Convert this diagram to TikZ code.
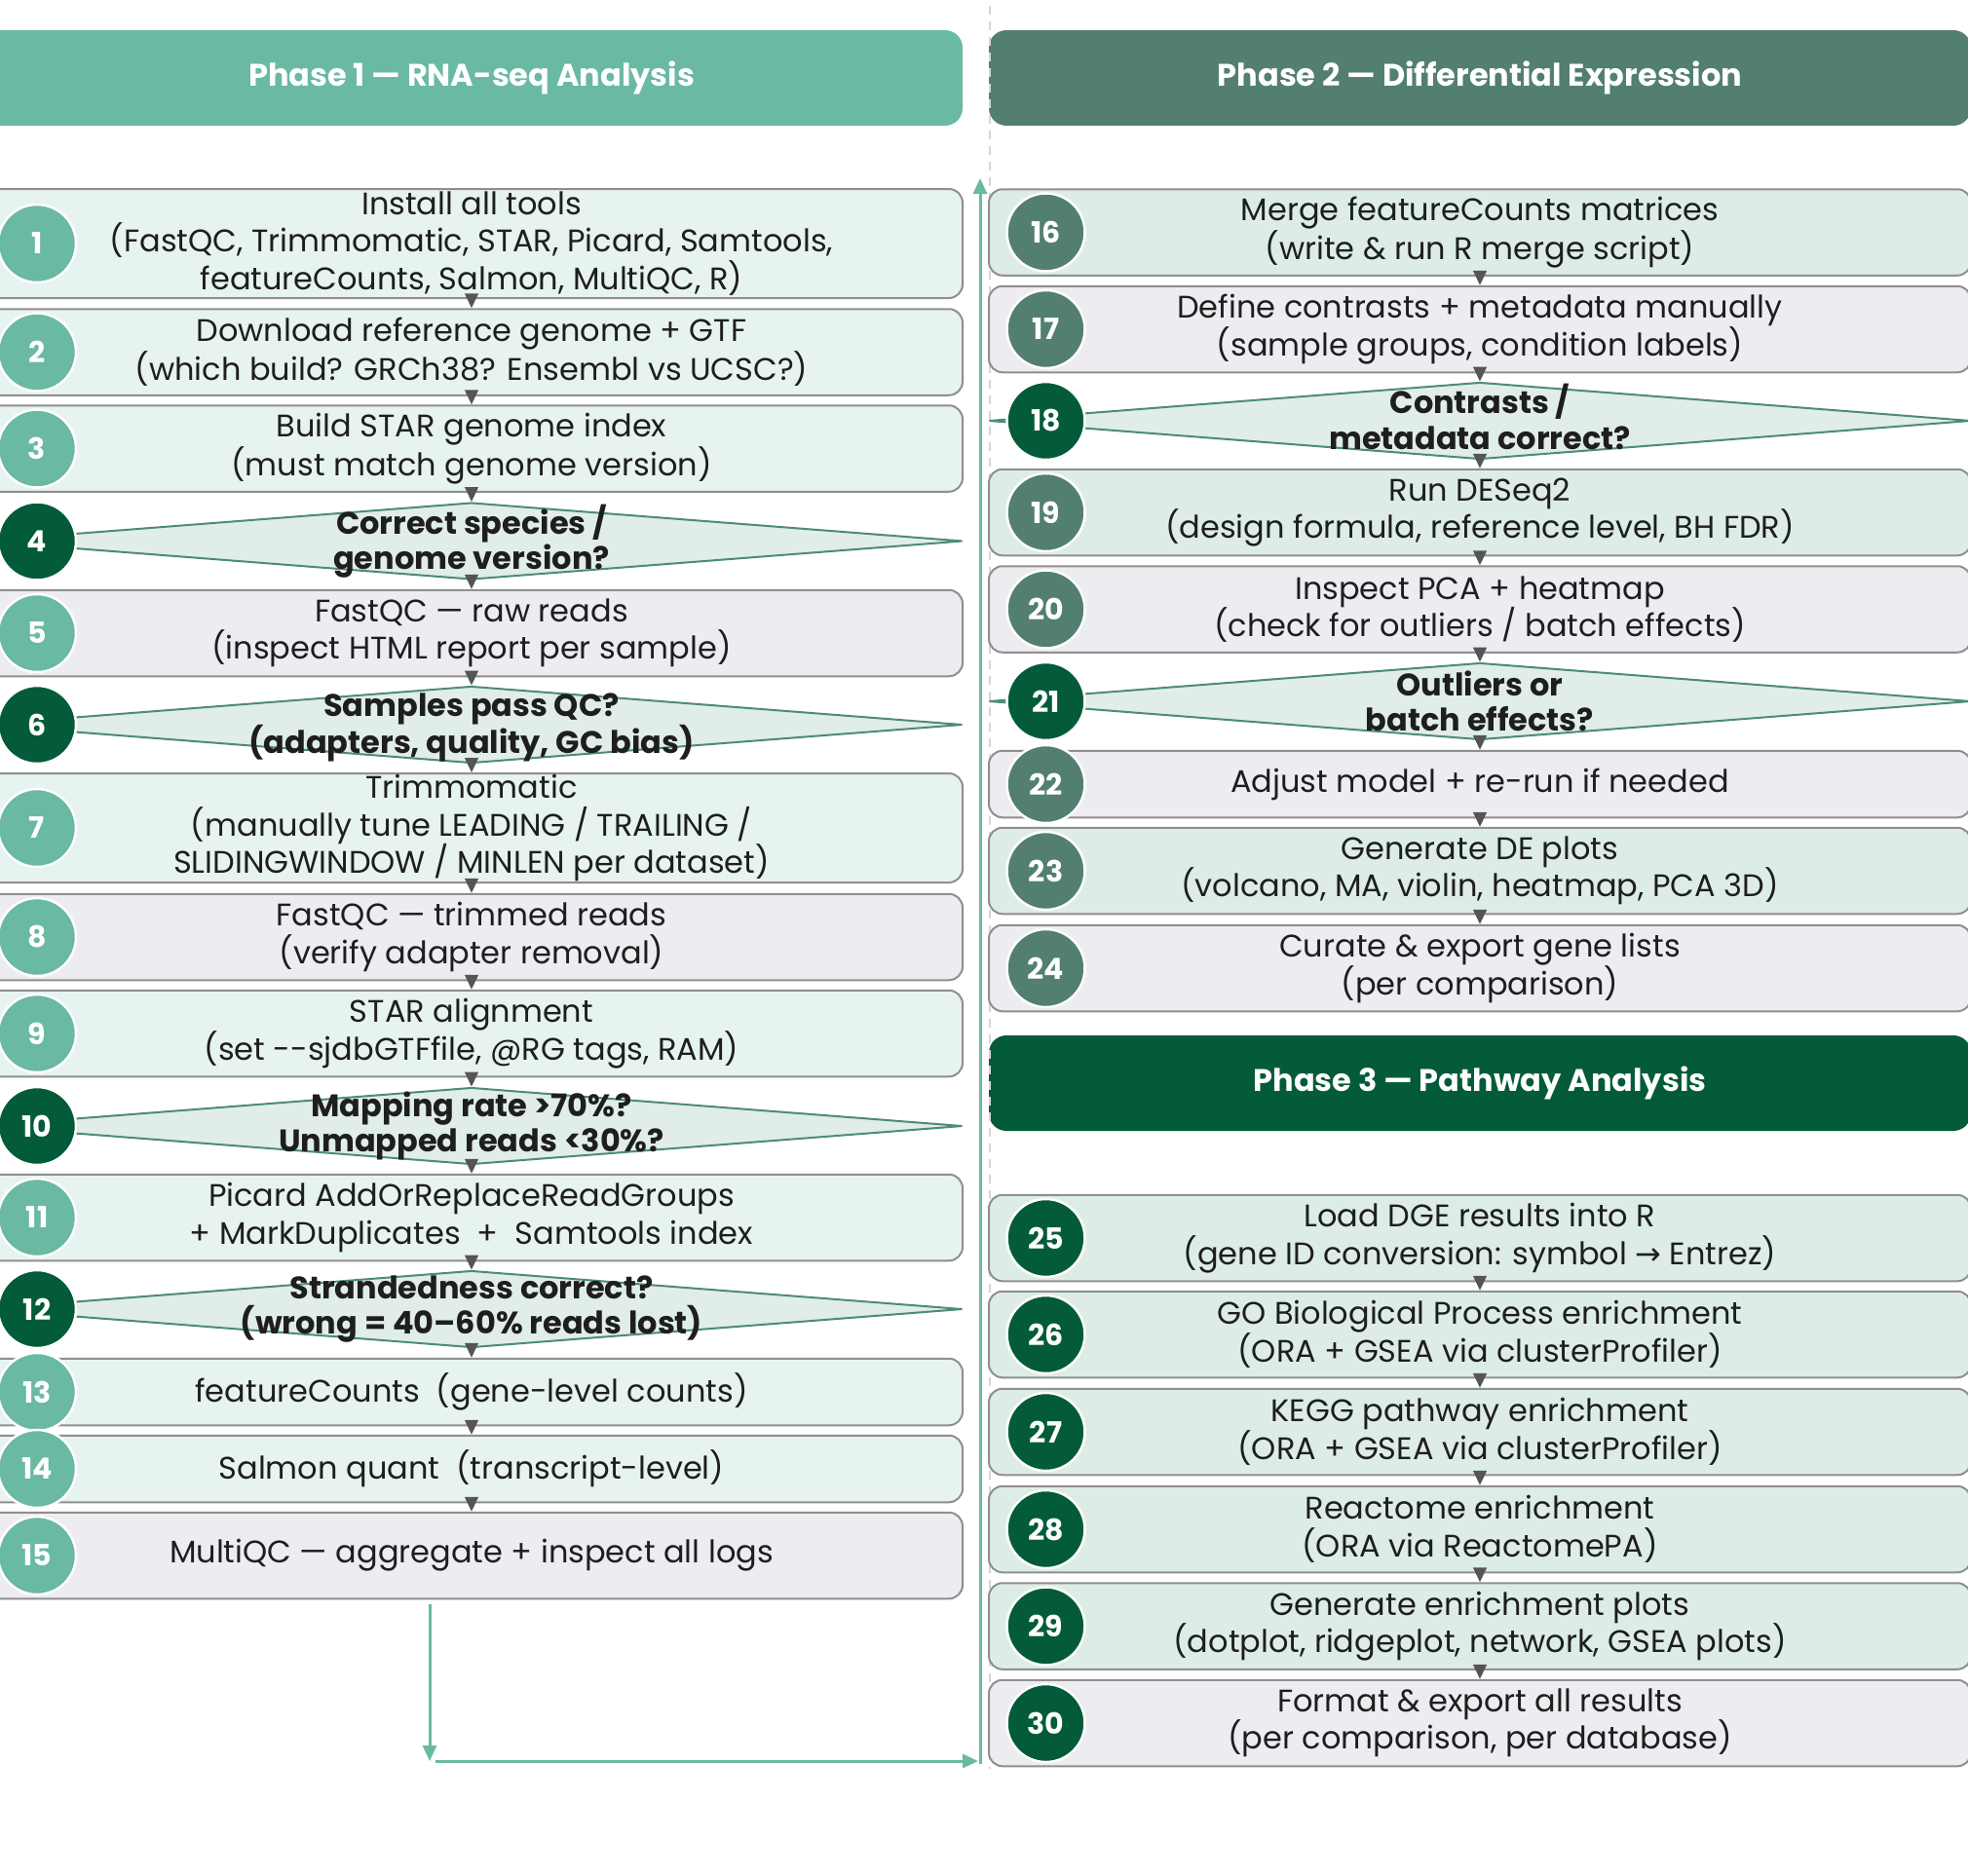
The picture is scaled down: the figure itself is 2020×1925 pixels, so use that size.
\documentclass[tikz,border=0pt]{standalone}
\usepackage{fontspec}
\setmainfont{Poppins}
\newfontfamily\arrowfont{DejaVu Sans}
\usepackage{tikz}
\usetikzlibrary{arrows.meta}
\usetikzlibrary{shapes.geometric}
\definecolor{phaseone}{HTML}{6AB9A3}
\definecolor{phasetwo}{HTML}{527F70}
\definecolor{phasethree}{HTML}{035B39}
\definecolor{mint}{HTML}{E7F3F0}
\definecolor{sage}{HTML}{DDEDE6}
\definecolor{greybox}{HTML}{ECECF1}
\definecolor{diamondfill}{HTML}{E0EDE8}
\definecolor{diamondline}{HTML}{4D8B7A}
\definecolor{boxline}{HTML}{8F8F8F}
\definecolor{arrowgrey}{HTML}{555555}
\definecolor{divgrey}{HTML}{D6D6D6}
\definecolor{ink}{HTML}{1E1E1E}
\newcommand{\stepfont}{\fontsize{32}{38.5}\selectfont}
\newcommand{\askfont}{\bfseries\fontsize{32}{36.5}\selectfont}
\tikzset{phasehead/.style = {rounded corners = 18pt, minimum width = 1008pt, minimum height = 98pt,
                             inner sep = 0, text = white, font = \bfseries\fontsize{32}{32}\selectfont}}
\tikzset{stepbox/.style = {draw = boxline, line width = 2pt, rounded corners = 14pt, inner sep = 0,
                           minimum width = 1008pt, text = ink, align = center, font = \stepfont}}
\tikzset{threeline/.style = {minimum height = 112pt}}
\tikzset{twoline/.style = {minimum height = 88.5pt}}
\tikzset{oneline/.style = {minimum height = 68.5pt}}
\tikzset{decision/.style = {diamond, draw = diamondline, fill = diamondfill, line width = 2pt,
                            minimum width = 1008pt, minimum height = 79pt, inner sep = 0}}
\tikzset{question/.style = {inner sep = 0, text = ink, align = center, font = \askfont}}
\tikzset{stepnum/.style = {circle, draw = white, line width = 2.5pt, minimum size = 80pt, inner sep = 0,
                           text = white, font = \bfseries\fontsize{30}{30}\selectfont}}
\tikzset{flow/.style = {draw = arrowgrey, line width = 1.5pt, -{Triangle[width = 14pt, length = 15pt]}}}
\tikzset{back/.style = {draw = phaseone, line width = 3pt, -{Triangle[width = 14pt, length = 16pt]}}}
\tikzset{divider/.style = {draw = divgrey, line width = 2pt, dash pattern = on 9pt off 7pt}}

\begin{document}
\begin{tikzpicture}[x = 1pt, y = -1pt]
    \useasboundingbox (0, 0) rectangle (2020, 1925);

    \node [phasehead, fill = phaseone] (p1) at (484, 80) {Phase 1 — RNA-seq Analysis};
    \node [phasehead, fill = phasetwo] (p2) at (1519, 80) {Phase 2 — Differential Expression};
    \node [phasehead, fill = phasethree] (p3) at (1519, 1112) {Phase 3 — Pathway Analysis};

    \draw [divider] (1016, 6) -- (1016, 1816);

    % phase 1
    \node [stepbox, threeline, fill = mint] (s1) at (484, 250)
        {Install all tools\\(FastQC, Trimmomatic, STAR, Picard, Samtools,\\featureCounts, Salmon, MultiQC, R)};
    \node [stepbox, twoline, fill = mint] (s2) at (484, 361.5)
        {Download reference genome + GTF\\(which build? GRCh38? Ensembl vs UCSC?)};
    \node [stepbox, twoline, fill = mint] (s3) at (484, 460.5)
        {Build STAR genome index\\(must match genome version)};
    \node [decision] (s4) at (484, 555.5) {};
    \node [question] (t4) at (s4) {Correct species /\\genome version?};
    \node [stepbox, twoline, fill = greybox] (s5) at (484, 650)
        {FastQC — raw reads\\(inspect HTML report per sample)};
    \node [decision] (s6) at (484, 744) {};
    \node [question] (t6) at ([yshift = -3pt]s6) {Samples pass QC?\\(adapters, quality, GC bias)};
    \node [stepbox, threeline, fill = mint] (s7) at (484, 850)
        {Trimmomatic\\(manually tune LEADING / TRAILING /\\SLIDINGWINDOW / MINLEN per dataset)};
    \node [stepbox, twoline, fill = greybox] (s8) at (484, 962)
        {FastQC — trimmed reads\\(verify adapter removal)};
    \node [stepbox, twoline, fill = mint] (s9) at (484, 1061)
        {STAR alignment\\(set -{}-sjdbGTFfile, @RG tags, RAM)};
    \node [decision] (s10) at (484, 1156) {};
    \node [question] (t10) at (s10) {Mapping rate >70\%?\\Unmapped reads <30\%?};
    \node [stepbox, twoline, fill = mint] (s11) at (484, 1250)
        {Picard AddOrReplaceReadGroups\\+ MarkDuplicates\ \ +\ \ Samtools index};
    \node [decision] (s12) at (484, 1344) {};
    \node [question] (t12) at (s12) {Strandedness correct?\\(wrong = 40–60\% reads lost)};
    \node [stepbox, oneline, fill = mint] (s13) at (484, 1429)
        {featureCounts\ \ (gene-level counts)};
    \node [stepbox, oneline, fill = mint] (s14) at (484, 1508)
        {Salmon quant\ \ (transcript-level)};
    \node [stepbox, twoline, fill = greybox] (s15) at (484, 1597)
        {MultiQC — aggregate + inspect all logs};

    % phase 2
    \node [stepbox, twoline, fill = sage] (s16) at (1519, 238.5)
        {Merge featureCounts matrices\\(write \& run R merge script)};
    \node [stepbox, twoline, fill = greybox] (s17) at (1519, 338)
        {Define contrasts + metadata manually\\(sample groups, condition labels)};
    \node [decision] (s18) at (1519, 432) {};
    \node [question] (t18) at ([yshift = 4pt]s18) {Contrasts /\\metadata correct?};
    \node [stepbox, twoline, fill = sage] (s19) at (1519, 526)
        {Run DESeq2\\(design formula, reference level, BH FDR)};
    \node [stepbox, twoline, fill = greybox] (s20) at (1519, 625.5)
        {Inspect PCA + heatmap\\(check for outliers / batch effects)};
    \node [decision] (s21) at (1519, 720) {};
    \node [question] (t21) at (s21) {Outliers or\\batch effects?};
    \node [stepbox, oneline, fill = greybox] (s22) at (1519, 805)
        {Adjust model + re-run if needed};
    \node [stepbox, twoline, fill = sage] (s23) at (1519, 894)
        {Generate DE plots\\(volcano, MA, violin, heatmap, PCA 3D)};
    \node [stepbox, twoline, fill = greybox] (s24) at (1519, 994)
        {Curate \& export gene lists\\(per comparison)};

    % phase 3
    \node [stepbox, twoline, fill = sage] (s25) at (1519, 1271)
        {Load DGE results into R\\(gene ID conversion: symbol {\arrowfont →} Entrez)};
    \node [stepbox, twoline, fill = sage] (s26) at (1519, 1370)
        {GO Biological Process enrichment\\(ORA + GSEA via clusterProfiler)};
    \node [stepbox, twoline, fill = sage] (s27) at (1519, 1470)
        {KEGG pathway enrichment\\(ORA + GSEA via clusterProfiler)};
    \node [stepbox, twoline, fill = sage] (s28) at (1519, 1570)
        {Reactome enrichment\\(ORA via ReactomePA)};
    \node [stepbox, twoline, fill = sage] (s29) at (1519, 1669.5)
        {Generate enrichment plots\\(dotplot, ridgeplot, network, GSEA plots)};
    \node [stepbox, twoline, fill = greybox] (s30) at (1519, 1769)
        {Format \& export all results\\(per comparison, per database)};

    % step numbers
    \node [stepnum, fill = phaseone] (n1) at (38, 250) {1};
    \node [stepnum, fill = phaseone] (n2) at (38, 361.5) {2};
    \node [stepnum, fill = phaseone] (n3) at (38, 460.5) {3};
    \node [stepnum, fill = phasethree] (n4) at (38, 555.5) {4};
    \node [stepnum, fill = phaseone] (n5) at (38, 650) {5};
    \node [stepnum, fill = phasethree] (n6) at (38, 744) {6};
    \node [stepnum, fill = phaseone] (n7) at (38, 850) {7};
    \node [stepnum, fill = phaseone] (n8) at (38, 962) {8};
    \node [stepnum, fill = phaseone] (n9) at (38, 1061) {9};
    \node [stepnum, fill = phasethree] (n10) at (38, 1156) {10};
    \node [stepnum, fill = phaseone] (n11) at (38, 1250) {11};
    \node [stepnum, fill = phasethree] (n12) at (38, 1344) {12};
    \node [stepnum, fill = phaseone] (n13) at (38, 1429) {13};
    \node [stepnum, fill = phaseone] (n14) at (38, 1508) {14};
    \node [stepnum, fill = phaseone] (n15) at (38, 1597) {15};
    \node [stepnum, fill = phasetwo] (n16) at (1073.5, 238.5) {16};
    \node [stepnum, fill = phasetwo] (n17) at (1073.5, 338) {17};
    \node [stepnum, fill = phasethree] (n18) at (1073.5, 432) {18};
    \node [stepnum, fill = phasetwo] (n19) at (1073.5, 526) {19};
    \node [stepnum, fill = phasetwo] (n20) at (1073.5, 625.5) {20};
    \node [stepnum, fill = phasethree] (n21) at (1073.5, 720) {21};
    \node [stepnum, fill = phasetwo] (n22) at (1073.5, 805) {22};
    \node [stepnum, fill = phasetwo] (n23) at (1073.5, 894) {23};
    \node [stepnum, fill = phasetwo] (n24) at (1073.5, 994) {24};
    \node [stepnum, fill = phasethree] (n25) at (1073.5, 1271) {25};
    \node [stepnum, fill = phasethree] (n26) at (1073.5, 1370) {26};
    \node [stepnum, fill = phasethree] (n27) at (1073.5, 1470) {27};
    \node [stepnum, fill = phasethree] (n28) at (1073.5, 1570) {28};
    \node [stepnum, fill = phasethree] (n29) at (1073.5, 1669.5) {29};
    \node [stepnum, fill = phasethree] (n30) at (1073.5, 1769) {30};

    \draw [flow] (s1) -- (s2);
    \draw [flow] (s2) -- (s3);
    \draw [flow] (s3) -- (s4);
    \draw [flow] (s4) -- (s5);
    \draw [flow] (s5) -- (s6);
    \draw [flow] (s6) -- (s7);
    \draw [flow] (s7) -- (s8);
    \draw [flow] (s8) -- (s9);
    \draw [flow] (s9) -- (s10);
    \draw [flow] (s10) -- (s11);
    \draw [flow] (s11) -- (s12);
    \draw [flow] (s12) -- (s13);
    \draw [flow] (s13) -- (s14);
    \draw [flow] (s14) -- (s15);
    \draw [flow] (s16) -- (s17);
    \draw [flow] (s17) -- (s18);
    \draw [flow] (s18) -- (s19);
    \draw [flow] (s19) -- (s20);
    \draw [flow] (s20) -- (s21);
    \draw [flow] (s21) -- (s22);
    \draw [flow] (s22) -- (s23);
    \draw [flow] (s23) -- (s24);
    \draw [flow] (s25) -- (s26);
    \draw [flow] (s26) -- (s27);
    \draw [flow] (s27) -- (s28);
    \draw [flow] (s28) -- (s29);
    \draw [flow] (s29) -- (s30);

    % hand-over from phase 1 to phase 2
    \coordinate (corner) at (441, 1808);
    \coordinate (foot) at (1006, 1808);
    \coordinate (top) at (1006, 183);
    \draw [back] ([xshift = -43pt, yshift = -5pt]s15.south) -- (corner);
    \draw [back] ([xshift = 6pt]corner) -- ([xshift = -2pt]foot);
    \draw [back] ([yshift = -3pt]foot) -- (top);
\end{tikzpicture}
\end{document}
